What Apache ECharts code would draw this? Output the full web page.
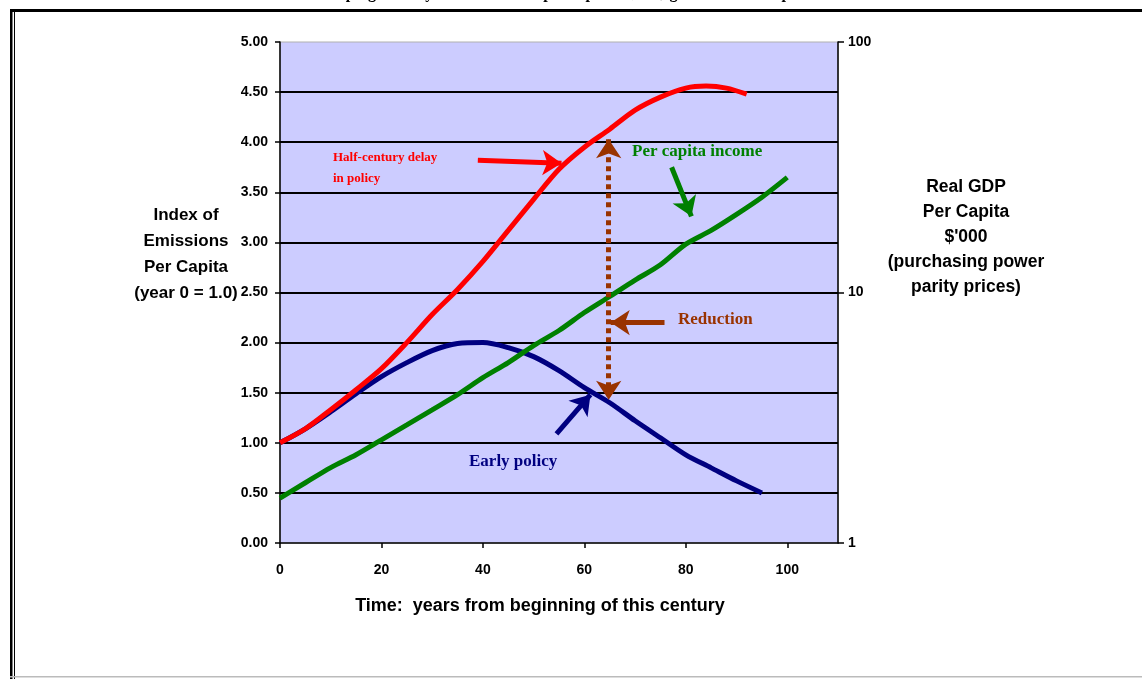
<!DOCTYPE html>
<html>
<head>
<meta charset="utf-8">
<script src="https://cdn.jsdelivr.net/npm/echarts@6/dist/echarts.min.js"></script>
<style>
html,body{margin:0;padding:0;background:#fff;}
#c{width:1142px;height:679px;}
</style>
</head>
<body>
<div id="c"></div>
<script>
// ---- data ----
var redYears = [0,5,10,15,20,25,30,35,40,45,50,55,60,65,70,75,80,84,88,92];
var redValues = [1.00,1.14,1.33,1.53,1.74,2.00,2.28,2.53,2.81,3.12,3.43,3.73,3.95,4.13,4.32,4.45,4.54,4.56,4.54,4.48];

var blueYears = [0,5,10,15,20,25,30,35,40,45,50,55,60,65,70,75,80,85,90,95];
var blueValues = [1.00,1.14,1.31,1.49,1.66,1.80,1.92,1.99,2.00,1.95,1.86,1.72,1.55,1.40,1.22,1.05,0.88,0.75,0.62,0.50];

var greenYears = [0,5,10,15,20,25,30,35,40,45,50,55,60,65,70,75,80,85,90,95,100];
var greenGDP = [1.51,1.74,2.00,2.25,2.58,2.96,3.40,3.91,4.57,5.25,6.14,7.05,8.32,9.64,11.2,12.9,15.6,17.7,20.5,24.0,28.8];

var xTicks = [0,20,40,60,80,100];
var rightTicks = [1,10,100];

// annotation arrows in data coordinates [year, index]
var redArrow = [[39.0,3.82],[55.5,3.79]];
var greenArrow = [[77.2,3.75],[81.1,3.26]];
var reductionArrow = [[75.8,2.20],[65.2,2.20]];
var blueArrow = [[54.5,1.09],[61.2,1.48]];
var dottedArrow = [[64.8,4.03],[64.8,1.43]];

function pairs(xs, ys){ return xs.map(function(x,i){ return [x, ys[i]]; }); }

var chart = echarts.init(document.getElementById('c'), null, {renderer:'canvas'});

var axisLabelFont = {fontFamily:'Liberation Sans, Arial, sans-serif', fontWeight:'bold', fontSize:14, color:'#000'};
var serif = 'Liberation Serif, Times New Roman, serif';
var sans = 'Liberation Sans, Arial, sans-serif';

function arrowLine(pts, color, dotted, both){
  var ls = {color:color, width:5, type: dotted ? [5,4] : 'solid', opacity:1};
  return [
    {coord: pts[0], symbol: both ? 'arrow' : 'none', symbolSize:[19,19], lineStyle: ls, itemStyle:{color:color}, label:{show:false}},
    {coord: pts[1], symbol: 'arrow', symbolSize:[19,19], itemStyle:{color:color}}
  ];
}

var option = {
  animation:false,
  backgroundColor:'#fff',
  grid:{left:280, right:304, top:42, bottom:136, show:true, backgroundColor:'#ccccff', borderColor:'#b0b0b0', borderWidth:1},
  xAxis:{
    type:'value', min:0, max:110, interval:20,
    axisLine:{show:true, onZero:false, lineStyle:{color:'#000', width:1.5}},
    axisTick:{show:true, length:5, customValues:xTicks, lineStyle:{color:'#000', width:1.5}},
    axisLabel:Object.assign({margin:20, customValues:xTicks}, axisLabelFont),
    splitLine:{show:false}
  },
  yAxis:[{
    type:'value', min:0, max:5, interval:0.5,
    axisLine:{show:true, lineStyle:{color:'#000', width:1.5}},
    axisTick:{show:true, length:5, lineStyle:{color:'#000', width:1.5}},
    axisLabel:Object.assign({margin:12, formatter:function(v){return v.toFixed(2);}}, axisLabelFont),
    splitLine:{show:true, showMinLine:false, showMaxLine:false, lineStyle:{color:'#000', width:2}}
  },{
    type:'log', logBase:10, min:1, max:100, position:'right',
    axisLine:{show:true, lineStyle:{color:'#000', width:1.5}},
    axisTick:{show:true, length:6, lineStyle:{color:'#000', width:1.5}},
    minorTick:{show:false},
    axisLabel:Object.assign({margin:10, customValues:rightTicks}, axisLabelFont),
    splitLine:{show:false}
  }],
  series:[
    {
      name:'Early policy', type:'line', data:pairs(blueYears, blueValues),
      xAxisIndex:0, yAxisIndex:0, showSymbol:false, smooth:0.3,
      lineStyle:{color:'#000080', width:5}, z:3
    },
    {
      name:'Per capita income', type:'line', data:pairs(greenYears, greenGDP),
      xAxisIndex:0, yAxisIndex:1, showSymbol:false, smooth:0.3,
      lineStyle:{color:'#008000', width:5}, z:3
    },
    {
      name:'Half-century delay in policy', type:'line', data:pairs(redYears, redValues),
      xAxisIndex:0, yAxisIndex:0, showSymbol:false, smooth:0.3,
      lineStyle:{color:'#ff0000', width:5}, z:4,
      markLine:{
        silent:true, animation:false, z:5,
        label:{show:false},
        data:[
          arrowLine(redArrow, '#ff0000', false, false),
          arrowLine(greenArrow, '#008000', false, false),
          arrowLine(reductionArrow, '#993300', false, false),
          arrowLine(blueArrow, '#000080', false, false),
          arrowLine(dottedArrow, '#993300', true, true)
        ]
      }
    }
  ],
  graphic:[
    // frame
    {type:'rect', shape:{x:10, y:9, width:1132, height:3}, style:{fill:'#000'}, silent:true},
    {type:'rect', shape:{x:10, y:9, width:2.5, height:670}, style:{fill:'#000'}, silent:true},
    {type:'rect', shape:{x:14, y:12, width:1, height:667}, style:{fill:'#000'}, silent:true},
    {type:'rect', shape:{x:10, y:676, width:1132, height:1.5}, style:{fill:'#bbbbbb'}, silent:true},
    // clipped title at top
    {type:'text', x:553, y:2, style:{text:'Developing country case: real GDP per capita $1,500; growth rate 3% p.a.', fill:'#000', font:'bold 16px '+serif, textAlign:'center', textVerticalAlign:'bottom'}, silent:true},
    // axis names
    {type:'text', x:186, y:202, style:{text:'Index of\nEmissions\nPer Capita\n(year 0 = 1.0)', fill:'#000', font:'bold 17px '+sans, textAlign:'center', lineHeight:26}, silent:true},
    {type:'text', x:966, y:175, style:{text:"Real GDP\nPer Capita\n$'000\n(purchasing power\nparity prices)", fill:'#000', font:'bold 17.5px '+sans, textAlign:'center', lineHeight:25}, silent:true},
    {type:'text', x:540, y:597, style:{text:'Time:  years from beginning of this century', fill:'#000', font:'bold 18px '+sans, textAlign:'center'}, silent:true},
    // annotations
    {type:'text', x:333, y:147, style:{text:'Half-century delay\nin policy', fill:'#ff0000', font:'bold 13px '+serif, lineHeight:21}, silent:true, z:10},
    {type:'text', x:632, y:143, style:{text:'Per capita income', fill:'#008000', font:'bold 17px '+serif}, silent:true, z:10},
    {type:'text', x:678, y:311, style:{text:'Reduction', fill:'#993300', font:'bold 17px '+serif}, silent:true, z:10},
    {type:'text', x:469, y:453, style:{text:'Early policy', fill:'#000080', font:'bold 17px '+serif}, silent:true, z:10}
  ]
};
chart.setOption(option);
</script>
</body>
</html>
